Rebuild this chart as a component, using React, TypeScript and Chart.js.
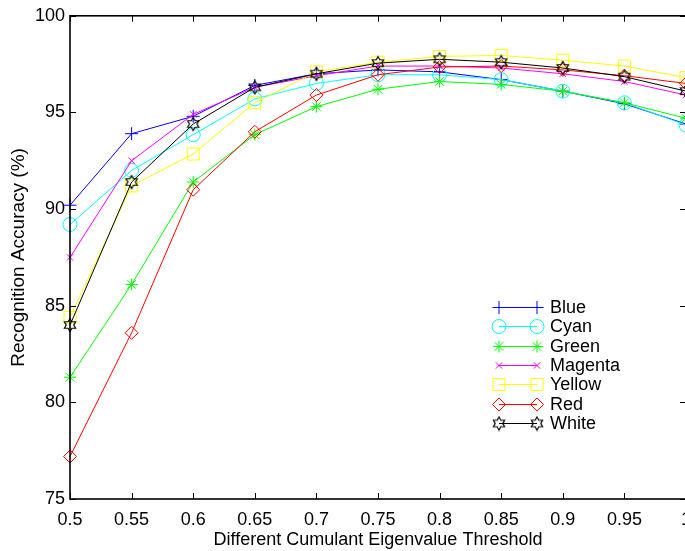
import React, { useEffect, useRef } from 'react';
import { Chart, registerables } from 'chart.js';
import { drawPoint } from 'chart.js/helpers';

Chart.register(...registerables);

const thresholds = [0.5, 0.55, 0.6, 0.65, 0.7, 0.75, 0.8, 0.85, 0.9, 0.95, 1.0];
const yTicks = [75, 80, 85, 90, 95, 100];

const blueAcc = [90.2, 93.9, 94.8, 96.4, 97.0, 97.2, 97.1, 96.7, 96.1, 95.45, 94.4];
const cyanAcc = [89.2, 92.0, 93.85, 95.7, 96.5, 96.95, 96.95, 96.7, 96.1, 95.5, 94.35];
const greenAcc = [81.3, 86.1, 91.4, 93.85, 95.3, 96.2, 96.6, 96.45, 96.1, 95.5, 94.7];
const magentaAcc = [87.5, 92.5, 94.9, 96.3, 96.9, 97.4, 97.4, 97.3, 97.0, 96.6, 95.9];
const yellowAcc = [84.4, 91.2, 92.85, 95.5, 97.1, 97.6, 97.9, 97.95, 97.7, 97.4, 96.8];
const redAcc = [77.2, 83.6, 91.0, 94.0, 95.9, 96.95, 97.35, 97.4, 97.2, 96.9, 96.5];
const whiteAcc = [84.0, 91.4, 94.4, 96.3, 97.0, 97.55, 97.75, 97.6, 97.3, 96.85, 96.1];

const seriesNames = ['Blue', 'Cyan', 'Green', 'Magenta', 'Yellow', 'Red', 'White'];
const seriesValues = [blueAcc, cyanAcc, greenAcc, magentaAcc, yellowAcc, redAcc, whiteAcc];
const seriesColors = ['#0000ff', '#00ffff', '#00ff00', '#ff00ff', '#ffff00', '#ff0000', '#000000'];

const xTitle = 'Different Cumulant Eigenvalue Threshold';
const yTitle = 'Recognition Accuracy (%)';

function makeHexagram(color: string) {
  const c = document.createElement('canvas');
  c.width = 16;
  c.height = 16;
  const ctx = c.getContext('2d')!;
  const cx = 8, cy = 8, R = 6.5, r = R / Math.sqrt(3);
  ctx.beginPath();
  for (let i = 0; i < 12; i++) {
    const a = -Math.PI / 2 + (i * Math.PI) / 6;
    const rad = i % 2 === 0 ? R : r;
    const px = cx + rad * Math.cos(a);
    const py = cy + rad * Math.sin(a);
    if (i === 0) ctx.moveTo(px, py);
    else ctx.lineTo(px, py);
  }
  ctx.closePath();
  ctx.strokeStyle = color;
  ctx.lineWidth = 1.2;
  ctx.stroke();
  return c;
}

export default function App() {
  const ref = useRef<HTMLCanvasElement | null>(null);

  useEffect(() => {
    if (!ref.current) return;
    const hex = makeHexagram('#000000');
    const styles: any[] = ['cross', 'circle', 'star', 'crossRot', 'rect', 'rectRot', hex];
    const radii = [6.5, 7, 6, 4.5, 8.5, 6.5, 7];

    const framePlugin = {
      id: 'frame',
      afterDatasetsDraw(chart: any) {
        const { ctx, chartArea } = chart;
        const { left, right, top, bottom } = chartArea;
        const xs = chart.scales.x;
        const ys = chart.scales.y;
        ctx.save();
        ctx.strokeStyle = '#000';
        ctx.lineWidth = 1.6;
        ctx.strokeRect(left, top, right - left, bottom - top);
        ctx.lineWidth = 1;
        const tl = 6;
        thresholds.forEach((v) => {
          const px = Math.round(xs.getPixelForValue(v)) + 0.5;
          ctx.beginPath();
          ctx.moveTo(px, bottom);
          ctx.lineTo(px, bottom - tl);
          ctx.moveTo(px, top);
          ctx.lineTo(px, top + tl);
          ctx.stroke();
        });
        yTicks.forEach((v) => {
          const py = Math.round(ys.getPixelForValue(v)) + 0.5;
          ctx.beginPath();
          ctx.moveTo(left, py);
          ctx.lineTo(left + tl, py);
          ctx.moveTo(right, py);
          ctx.lineTo(right - tl, py);
          ctx.stroke();
        });
        ctx.restore();
      },
    };

    const legendPlugin = {
      id: 'matlabLegend',
      afterDraw(chart: any) {
        const { ctx, chartArea } = chart;
        const x1 = chartArea.left + 429;
        const x2 = chartArea.left + 467;
        const tx = chartArea.left + 480;
        const y0 = chartArea.top + 291;
        const dy = 19.4;
        ctx.save();
        chart.data.datasets.forEach((ds: any, i: number) => {
          const y = Math.round(y0 + i * dy) + 0.5;
          ctx.strokeStyle = ds.borderColor;
          ctx.lineWidth = 1;
          ctx.beginPath();
          ctx.moveTo(x1, y);
          ctx.lineTo(x2, y);
          ctx.stroke();
          ctx.fillStyle = 'rgba(0,0,0,0)';
          ctx.strokeStyle = ds.pointBorderColor;
          [x1, x2].forEach((px) => {
            drawPoint(ctx, { pointStyle: ds.pointStyle, radius: ds.pointRadius, rotation: 0, borderWidth: 1 } as any, px, y);
          });
          ctx.fillStyle = '#000';
          ctx.font = "18px 'Liberation Sans', Arial, sans-serif";
          ctx.textAlign = 'left';
          ctx.textBaseline = 'middle';
          ctx.fillText(ds.label, tx, y + 1);
        });
        ctx.restore();
      },
    };

    const datasets = seriesNames.map((name, i) => ({
      label: name,
      data: thresholds.map((t, j) => ({ x: t, y: seriesValues[i][j] })),
      borderColor: seriesColors[i],
      backgroundColor: 'rgba(0,0,0,0)',
      borderWidth: 1,
      pointStyle: styles[i],
      pointRadius: radii[i],
      pointBorderColor: seriesColors[i],
      pointBackgroundColor: 'rgba(0,0,0,0)',
      pointBorderWidth: 1,
      tension: 0,
      fill: false,
      clip: false as any,
      order: seriesNames.length - i,
    }));

    Chart.defaults.font.family = "'Liberation Sans', Arial, sans-serif";
    Chart.defaults.color = '#000';

    const chart = new Chart(ref.current, {
      type: 'line',
      data: { datasets },
      options: {
        animation: false,
        responsive: false,
        devicePixelRatio: 1,
        events: [],
        layout: { padding: { left: 0, right: 24, top: 14, bottom: 0 } },
        plugins: { legend: { display: false }, tooltip: { enabled: false } },
        scales: {
          x: {
            type: 'linear',
            min: 0.5,
            max: 1.0,
            afterBuildTicks: (scale: any) => {
              scale.ticks = thresholds.map((v) => ({ value: v }));
            },
            afterFit: (scale: any) => {
              scale.height = 52;
            },
            grid: { display: false, drawTicks: false },
            border: { display: false },
            ticks: {
              autoSkip: false,
              maxRotation: 0,
              padding: 10,
              font: { size: 18 },
              color: '#000',
              callback: (v: any) => String(Number(Number(v).toFixed(2))),
            },
            title: {
              display: true,
              text: xTitle,
              font: { size: 18 },
              color: '#000',
              padding: { top: 0, bottom: 0 },
            },
          },
          y: {
            type: 'linear',
            min: 75,
            max: 100,
            afterBuildTicks: (scale: any) => {
              scale.ticks = yTicks.map((v) => ({ value: v }));
            },
            afterFit: (scale: any) => {
              scale.width = 70;
            },
            grid: { display: false, drawTicks: false },
            border: { display: false },
            ticks: {
              padding: 5,
              font: { size: 18 },
              color: '#000',
            },
            title: {
              display: true,
              text: yTitle,
              font: { size: 19 },
              color: '#000',
              padding: { top: 7, bottom: 0 },
            },
          },
        },
      },
      plugins: [framePlugin, legendPlugin],
    });
    return () => chart.destroy();
  }, []);

  return (
    <div style={{ position: 'absolute', left: 0, top: 0, width: 685, height: 551, overflow: 'hidden', background: '#fff' }}>
      <canvas ref={ref} width={710} height={551} style={{ display: 'block', width: 710, height: 551 }} />
    </div>
  );
}
